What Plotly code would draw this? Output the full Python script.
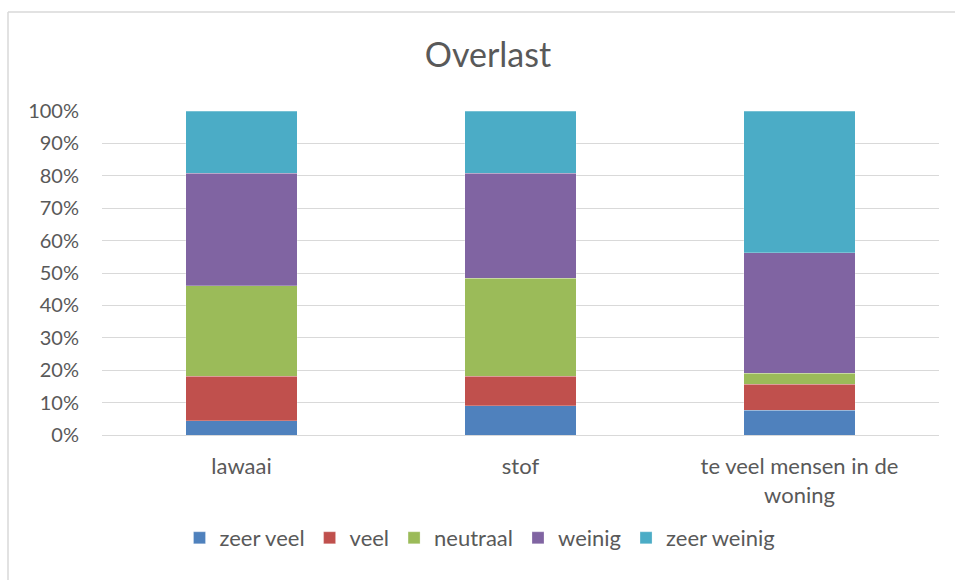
import plotly.graph_objects as go

categories = ["lawaai", "stof", "te veel mensen in de<br>woning"]
series_names = ["zeer veel", "veel", "neutraal", "weinig", "zeer weinig"]
zeer_veel = [4.4, 9.1, 7.7]
veel = [13.8, 9.1, 8.0]
neutraal = [27.9, 30.2, 3.4]
weinig = [34.7, 32.4, 37.1]
zeer_weinig = [19.2, 19.2, 43.8]
colors = ["#4f81bd", "#c0504d", "#9bbb59", "#8064a2", "#4bacc6"]
tick_vals = [0, 10, 20, 30, 40, 50, 60, 70, 80, 90, 100]
tick_text = [f"{v}%" for v in tick_vals]

FONT = "Lato"
TXT = "#595959"

W, H = 955, 580
L, T, R_EDGE, B_EDGE = 102, 111, 939, 435
PW, PH = R_EDGE - L, B_EDGE - T

fig = go.Figure()
for name, vals, col in zip(series_names, [zeer_veel, veel, neutraal, weinig, zeer_weinig], colors):
    fig.add_trace(go.Bar(
        x=categories, y=vals, name=name,
        marker=dict(color=col, line=dict(color="rgba(255,255,255,0.5)", width=0.5)),
    ))

fig.update_layout(
    barmode="stack",
    bargap=0.6,
    width=W, height=H,
    margin=dict(l=L, r=W - R_EDGE, t=T, b=H - B_EDGE, autoexpand=False),
    paper_bgcolor="white", plot_bgcolor="white",
    font=dict(family=FONT, color=TXT, size=20),
    title=dict(text="Overlast", x=488 / W, xref="container", xanchor="center",
               y=1 - 55 / H, yref="container", yanchor="middle",
               font=dict(family=FONT, size=34, color=TXT)),
    showlegend=True,
    legend=dict(orientation="h", x=480 / W, xref="container", xanchor="center",
                y=1 - 538 / H, yref="container", yanchor="middle",
                font=dict(family=FONT, size=22, color=TXT), traceorder="normal",
                itemwidth=30),
    xaxis=dict(showgrid=False, showline=False, ticks="outside", ticklen=12,
               automargin=False,
               tickcolor="rgba(0,0,0,0)", tickfont=dict(family=FONT, size=22, color=TXT)),
    yaxis=dict(range=[0, 100], tickvals=tick_vals, ticktext=tick_text,
               automargin=False,
               showgrid=True, gridcolor="#d9d9d9", gridwidth=1, zeroline=True,
               zerolinecolor="#d9d9d9", zerolinewidth=1, showline=False,
               ticks="outside", ticklen=18, tickcolor="rgba(0,0,0,0)",
               tickfont=dict(family=FONT, size=20, color=TXT)),
    shapes=[
        dict(type="line", xref="paper", yref="paper",
             x0=(8 - L) / PW, x1=(8 - L) / PW, y0=-1.0, y1=(B_EDGE - 12) / PH,
             line=dict(color="#d9d9d9", width=1.5), layer="below"),
        dict(type="line", xref="paper", yref="paper",
             x0=(8 - L) / PW, x1=(W + 5 - L) / PW, y0=(B_EDGE - 12) / PH, y1=(B_EDGE - 12) / PH,
             line=dict(color="#d9d9d9", width=1.5), layer="below"),
    ],
)
fig.write_html(
    "out.html",
    config={"displayModeBar": False},
    post_script="document.body.style.margin='0';document.body.style.overflow='hidden';"
                "document.documentElement.style.overflow='hidden';",
)
